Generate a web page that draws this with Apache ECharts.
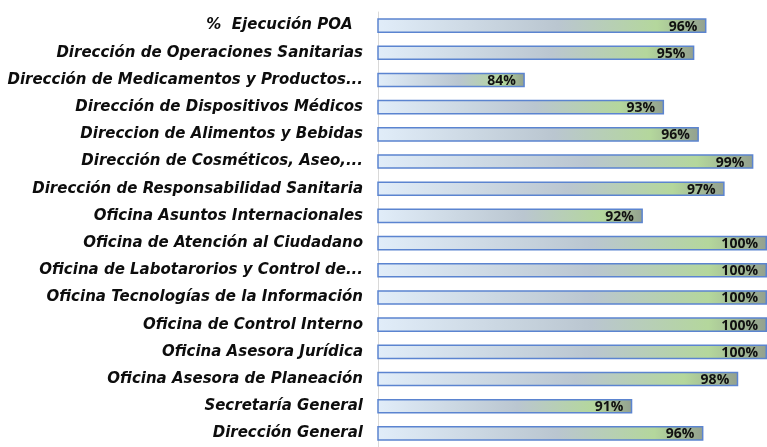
<!DOCTYPE html>
<html>
<head>
<meta charset="utf-8">
<script src="https://cdn.jsdelivr.net/npm/echarts@6/dist/echarts.min.js"></script>
<style>
  html, body { margin: 0; padding: 0; background: #fff; }
  #chart { width: 767px; height: 447px; }
</style>
</head>
<body>
<div id="chart"></div>
<script>
const categories = [
  "%  Ejecución POA  ",
  "Dirección de Operaciones Sanitarias",
  "Dirección de Medicamentos y Productos...",
  "Dirección de Dispositivos Médicos",
  "Direccion de Alimentos y Bebidas",
  "Dirección de Cosméticos, Aseo,...",
  "Dirección de Responsabilidad Sanitaria",
  "Oficina Asuntos Internacionales",
  "Oficina de Atención al Ciudadano",
  "Oficina de Labotarorios y Control de...",
  "Oficina Tecnologías de la Información",
  "Oficina de Control Interno",
  "Oficina Asesora Jurídica",
  "Oficina Asesora de Planeación",
  "Secretaría General",
  "Dirección General",
];
// percent executed (labels show the rounded value)
const values = [96.0, 95.2, 84.0, 93.2, 95.5, 99.1, 97.2, 91.8, 100, 100, 100, 100, 100, 98.1, 91.1, 95.8];

const axisMin = 74.3;
const axisMax = 100;

const chart = echarts.init(document.getElementById("chart"));

const barFill = new echarts.graphic.LinearGradient(0, 0, 1, 0, [
  { offset: 0, color: "#e1edf9" },
  { offset: 0.55, color: "#bac6d0" },
  { offset: 0.85, color: "#b4d79c" },
  { offset: 1, color: "#93a08f" },
]);

const options = {
  animation: false,
  grid: {
    left: 378,
    top: 12,
    width: 393,
    height: 444,
    containLabel: false,
  },
  xAxis: {
    type: "value",
    min: axisMin,
    max: axisMax,
    show: false,
  },
  yAxis: {
    type: "category",
    data: categories,
    inverse: true,
    axisLine: { show: true, lineStyle: { color: "#d9d9d9", width: 1 } },
    axisTick: { show: false },
    axisLabel: {
      margin: 15,
      color: "#0d0d0d",
      fontFamily: "DejaVu Sans",
      fontStyle: "italic",
      fontWeight: "bold",
      fontSize: 15,
    },
  },
  series: [
    {
      type: "bar",
      data: values,
      barCategoryGap: "46%",
      itemStyle: {
        color: barFill,
        borderColor: "#5b84d0",
        borderWidth: 1.5,
      },
      label: {
        show: true,
        position: "insideRight",
        distance: 9,
        offset: [0, 1],
        color: "#111",
        fontFamily: "Open Sans",
        fontWeight: "bold",
        fontSize: 14,
        formatter: (p) => Math.round(p.value) + "%",
      },
    },
  ],
};

chart.setOption(options);
</script>
</body>
</html>
